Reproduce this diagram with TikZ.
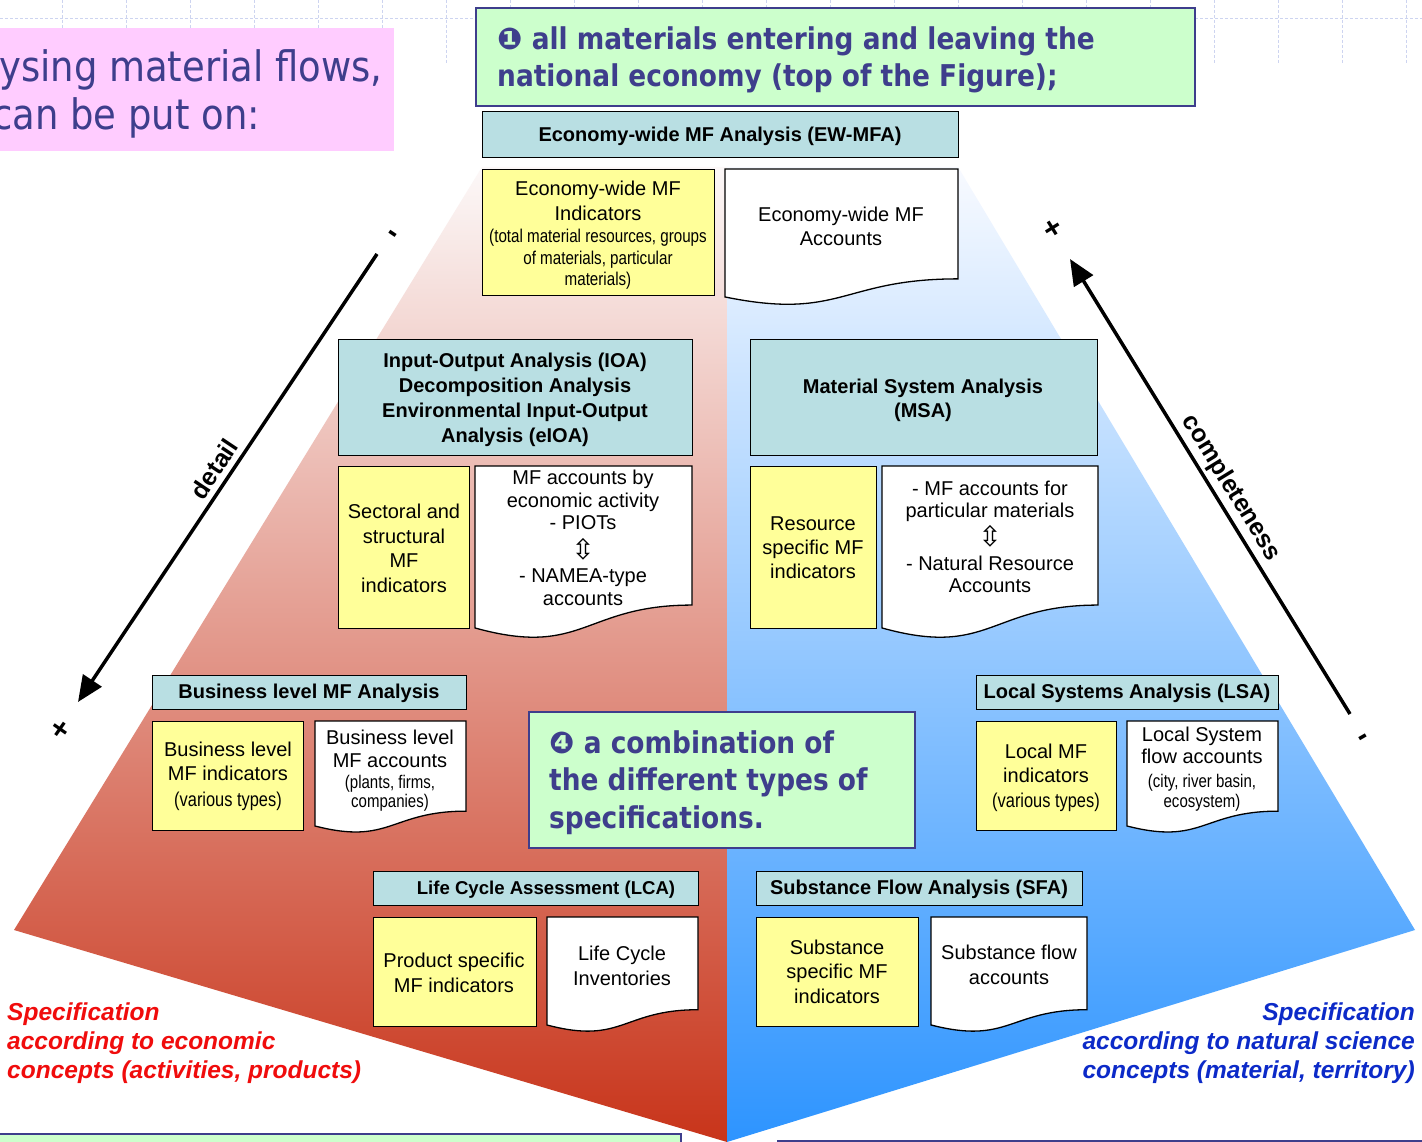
\documentclass[tikz,border=0pt]{standalone}
\usepackage{fontspec}
\setmainfont{Liberation Sans}
\newfontfamily\narrowfont[FakeStretch=0.82]{Liberation Sans}
\newfontfamily\slidefont[FakeStretch=0.88]{DejaVu Sans}
\newfontfamily\symfont{DejaVu Sans}
\usetikzlibrary{arrows.meta}

\definecolor{hdrfill}{RGB}{185,223,227}
\definecolor{indfill}{RGB}{255,255,153}
\definecolor{notefill}{RGB}{204,255,204}
\definecolor{navy}{RGB}{62,62,140}
\definecolor{pinkfill}{RGB}{255,204,255}
\definecolor{gridcol}{RGB}{205,212,240}
\definecolor{redtop}{RGB}{252,248,248}
\definecolor{redmid}{RGB}{228,172,166}
\definecolor{redbot}{RGB}{200,52,26}
\definecolor{bluetop}{RGB}{248,250,255}
\definecolor{bluemid}{RGB}{172,202,255}
\definecolor{bluebot}{RGB}{45,148,255}
\definecolor{spered}{RGB}{240,12,12}
\definecolor{speblue}{RGB}{12,42,200}
\definecolor{footfill}{RGB}{236,236,250}

% small condensed text inside the boxes
\newcommand\smallnar[2]{{\narrowfont\fontsize{#1}{22}\selectfont #2}}
% hollow up-down arrow between two account types
\newcommand\updown{{\symfont\fontsize{28}{28}\selectfont\raisebox{-3pt}{\smash{⇳}}}}
% flowchart "document" outline: x1, top, x2, full height
\newcommand\docshape[4]{%
  \draw[docbox] (#1,#2) -- (#3,#2) -- (#3,{#2+0.802*#4})
    .. controls ({(#1+#3)/2},{#2+0.802*#4}) and ({(#1+#3)/2},{#2+1.1075*#4})
    .. (#1,{#2+0.934*#4}) -- cycle;}

\begin{document}
\begin{tikzpicture}[x=1pt,y=-1pt,
  gridline/.style={draw=gridcol, line width=1pt, dash pattern=on 3pt off 2pt},
  box/.style={draw=black, line width=1.3pt, inner sep=0pt, anchor=north west},
  hdr/.style={box, fill=hdrfill},
  ind/.style={box, fill=indfill},
  docbox/.style={draw=black, line width=1.3pt, fill=white},
  notebox/.style={draw=navy, line width=2pt, fill=notefill, inner sep=0pt, anchor=north west},
  lbl/.style={inner sep=0pt, align=center, anchor=base, text=black, font=\fontsize{20}{24.5}\selectfont},
  hlbl/.style={lbl, font=\bfseries\fontsize{20}{25}\selectfont},
  slide/.style={inner sep=0pt, anchor=base west, text=navy, font=\slidefont\bfseries\fontsize{30}{38}\selectfont},
  axislbl/.style={inner sep=0pt, font=\bfseries\fontsize{25}{30}\selectfont},
  pm/.style={inner sep=0pt, font=\bfseries\fontsize{30}{30}\selectfont},
  bigarrow/.style={line width=3.5pt, -{Triangle[length=26pt,width=22pt]}},
  spec/.style={inner sep=0pt, font=\bfseries\itshape\fontsize{24.5}{29}\selectfont}
]
\useasboundingbox (0,0) rectangle (1422,1142);
\clip (0,0) rectangle (1422,1142);
\fill[white] (0,0) rectangle (1422,1142);

% faint slide grid along the top
\foreach \gx in {62,126,...,1406} \draw[gridline] (\gx,0) -- (\gx,64);
\draw[gridline] (0,19) -- (1422,19);

% title strip (cut at the left edge)
\node[fill=pinkfill, inner sep=0pt, anchor=north west, minimum width=394pt, minimum height=123pt] (intro) at (0,28) {};
\node[inner sep=0pt, anchor=base west, text=navy, font=\slidefont\fontsize{42}{48}\selectfont] (intro1) at (-1,82) {ysing material flows,};
\node[inner sep=0pt, anchor=base west, text=navy, font=\slidefont\fontsize{42}{48}\selectfont] (intro2) at (-8,130) {can be put on:};

% note 1
\node[notebox, minimum width=719pt, minimum height=98pt] (note1) at (475,7) {};
\node[slide] (note1a) at (497,50) {{\symfont\bfseries ❶} all materials entering and leaving the};
\node[slide] (note1b) at (497,87) {national economy (top of the Figure);};

% the two halves of the pyramid
\shade[top color=redtop, middle color=redmid, bottom color=redbot]
  (482,167) -- (727,167) -- (727,1142) -- (14,930) -- cycle;
\shade[top color=bluetop, middle color=bluemid, bottom color=bluebot]
  (727,167) -- (958,167) -- (1415,930) -- (727,1142) -- cycle;

% multi-line labels are placed by the baseline of their last line

% ---- economy-wide level
\node[hdr, minimum width=476pt, minimum height=46pt] (ewh) at (482,111) {};
\node[hlbl] (ewht) at (720,142) {Economy-wide MF Analysis (EW-MFA)};
\node[ind, minimum width=232pt, minimum height=126pt] (ewi) at (482,169) {};
\node[lbl] (ewit) at (598,286) {Economy-wide MF\\Indicators\\[-2.5pt]
  \smallnar{18.5}{(total material resources, groups}\\[-3pt]
  \smallnar{18.5}{of materials, particular}\\[-2.5pt]
  \smallnar{18.5}{materials)}};
\docshape{725}{169}{958}{137}
\node[lbl, font=\fontsize{20}{24}\selectfont] (ewdt) at (841,246) {Economy-wide MF\\Accounts};

% ---- input-output level
\node[hdr, minimum width=354pt, minimum height=116pt] (ioah) at (338,339) {};
\node[hlbl] (ioaht) at (515,442) {Input-Output Analysis (IOA)\\Decomposition Analysis\\Environmental Input-Output\\Analysis (eIOA)};
\node[ind, minimum width=131pt, minimum height=162pt] (seci) at (338,466) {};
\node[lbl] (secit) at (404,592) {Sectoral and\\structural\\MF\\indicators};
\docshape{475}{466}{692}{173.4}
\node[lbl, font=\fontsize{20}{22.5}\selectfont] (ioadt) at (583,605) {MF accounts by\\economic activity\\- PIOTs\\[4pt]\updown\\[4pt]- NAMEA-type\\accounts};

% ---- material system level
\node[hdr, minimum width=347pt, minimum height=116pt] (msah) at (750,339) {};
\node[hlbl, font=\bfseries\fontsize{20}{24}\selectfont] (msaht) at (923,417) {Material System Analysis\\(MSA)};
\node[ind, minimum width=126pt, minimum height=162pt] (resi) at (750,466) {};
\node[lbl, font=\fontsize{20}{24}\selectfont] (resit) at (813,578) {Resource\\specific MF\\indicators};
\docshape{882}{466}{1098}{173.4}
\node[lbl, font=\fontsize{20}{22}\selectfont] (msadt) at (990,592) {- MF accounts for\\particular materials\\[4.5pt]\updown\\[4.5pt]- Natural Resource\\Accounts};

% ---- business level
\node[hdr, minimum width=314pt, minimum height=34pt] (bush) at (152,675) {};
\node[hlbl] (busht) at (309,698) {Business level MF Analysis};
\node[ind, minimum width=151pt, minimum height=109pt] (busi) at (152,721) {};
\node[lbl, font=\fontsize{20}{24}\selectfont] (busit) at (228,806) {Business level\\MF indicators\\[1.5pt]\smallnar{20}{(various types)}};
\docshape{315}{721}{466}{112.4}
\node[lbl, font=\fontsize{20}{22.5}\selectfont] (busdt) at (390,807) {Business level\\MF accounts\\[-1.5pt]\smallnar{18.3}{(plants, firms,}\\[-3.5pt]\smallnar{18.3}{companies)}};

% ---- local systems level
\node[hdr, minimum width=302pt, minimum height=34pt] (lsah) at (976,675) {};
\node[hlbl] (lsaht) at (1127,698) {Local Systems Analysis (LSA)};
\node[ind, minimum width=140pt, minimum height=109pt] (loci) at (976,721) {};
\node[lbl, font=\fontsize{20}{24}\selectfont] (locit) at (1046,807) {Local MF\\indicators\\[1pt]\smallnar{20}{(various types)}};
\docshape{1127}{721}{1278}{112.4}
\node[lbl, font=\fontsize{20}{22}\selectfont] (locdt) at (1202,807) {Local System\\flow accounts\\[1.5pt]\smallnar{18.3}{(city, river basin,}\\[-2pt]\smallnar{18.3}{ecosystem)}};

% ---- life cycle level
\node[hdr, minimum width=325pt, minimum height=34pt] (lcah) at (373,871) {};
\node[hlbl, font=\bfseries\fontsize{18.6}{22}\selectfont] (lcaht) at (546,894) {Life Cycle Assessment (LCA)};
\node[ind, minimum width=163pt, minimum height=109pt] (prodi) at (373,917) {};
\node[lbl, font=\fontsize{20}{25}\selectfont] (prodit) at (454,992) {Product specific\\MF indicators};
\docshape{547}{917}{698}{115.6}
\node[lbl, font=\fontsize{20}{25}\selectfont] (lcadt) at (622,985) {Life Cycle\\Inventories};

% ---- substance flow level
\node[hdr, minimum width=326pt, minimum height=34pt] (sfah) at (756,871) {};
\node[hlbl] (sfaht) at (919,894) {Substance Flow Analysis (SFA)};
\node[ind, minimum width=162pt, minimum height=109pt] (subi) at (756,917) {};
\node[lbl, font=\fontsize{20}{24.5}\selectfont] (subit) at (837,1003) {Substance\\specific MF\\indicators};
\docshape{931}{917}{1087}{115.6}
\node[lbl, font=\fontsize{20}{25}\selectfont] (sfadt) at (1009,984) {Substance flow\\accounts};

% note 4
\node[notebox, minimum width=386pt, minimum height=136pt] (note4) at (528,711) {};
\node[slide] (note4a) at (549,753) {{\symfont\bfseries ❹} a combination of};
\node[slide] (note4b) at (549,790) {the different types of};
\node[slide] (note4c) at (549,828) {specifications.};

% detail axis
\coordinate (dtop) at (377,254);
\coordinate (dtip) at (78,702);
\draw[bigarrow] (dtop) -- (dtip);
\node[axislbl, rotate=56.3] (detail) at (214,469) {detail};
\node[pm, rotate=-35] (dplus) at (60,730) {+};
\node[pm, rotate=-34] (dminus) at (391,236) {-};

% completeness axis
\coordinate (ctail) at (1350,714);
\coordinate (ctip) at (1070,259);
\draw[bigarrow] (ctail) -- (ctip);
\node[axislbl, rotate=-58.4] (compl) at (1231,488) {completeness};
\node[pm, rotate=32] (cplus) at (1053,229) {+};
\node[pm, rotate=30] (cminus) at (1364,740) {-};

% specification captions
\node[spec, text=spered, align=left, anchor=base west] (specL) at (7,1078)
  {Specification\\according to economic\\concepts (activities, products)};
\node[spec, text=speblue, align=right, anchor=base east] (specR) at (1415,1078)
  {Specification\\according to natural science\\concepts (material, territory)};

% boxes continuing below the edge
\node[notebox, minimum width=682pt, minimum height=40pt] (foot1) at (-2,1133) {};
\node[notebox, fill=footfill, minimum width=660pt, minimum height=40pt] (foot2) at (777,1140) {};
\end{tikzpicture}
\end{document}
